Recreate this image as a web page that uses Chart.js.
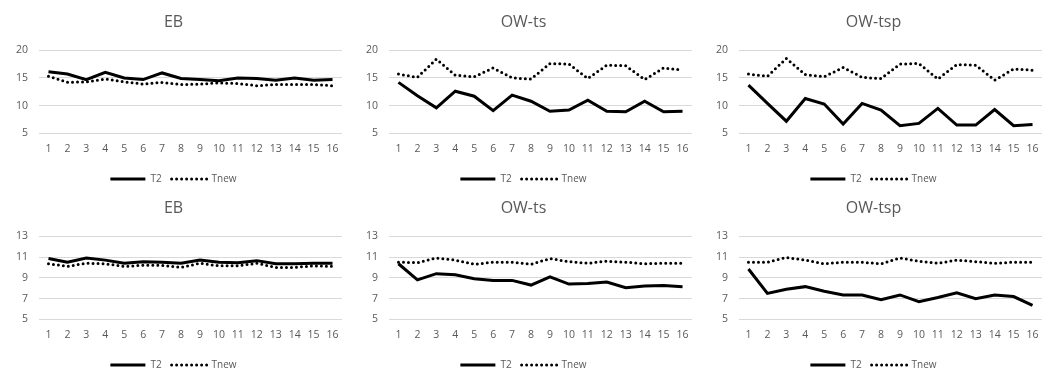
<!DOCTYPE html>
<html>
<head>
<meta charset="utf-8">
<script src="https://cdn.jsdelivr.net/npm/chart.js@4"></script>
<style>
  body { margin: 0; background: #fff; }
  .cell { position: absolute; width: 350px; height: 186px; }
</style>
</head>
<body>
<div class="cell" style="left:0;top:0"><canvas id="c1"></canvas></div>
<div class="cell" style="left:350px;top:0"><canvas id="c2"></canvas></div>
<div class="cell" style="left:700px;top:0"><canvas id="c3"></canvas></div>
<div class="cell" style="left:0;top:186px"><canvas id="c4"></canvas></div>
<div class="cell" style="left:350px;top:186px"><canvas id="c5"></canvas></div>
<div class="cell" style="left:700px;top:186px"><canvas id="c6"></canvas></div>
<script>
const labels = ["1","2","3","4","5","6","7","8","9","10","11","12","13","14","15","16"];

// top row
const ebTopT2 = [16.1, 15.7, 14.7, 16.0, 15.0, 14.7, 15.9, 14.9, 14.7, 14.5, 15.0, 14.9, 14.6, 15.0, 14.6, 14.7];
const ebTopTnew = [15.3, 14.2, 14.3, 14.8, 14.3, 13.9, 14.2, 13.8, 13.9, 14.1, 14.0, 13.6, 13.8, 13.8, 13.8, 13.6];
const tsTopT2 = [14.2, 11.8, 9.6, 12.6, 11.7, 9.1, 11.9, 10.8, 9.0, 9.2, 11.0, 9.0, 8.9, 10.8, 8.9, 9.0];
const tsTopTnew = [15.7, 15.1, 18.4, 15.5, 15.2, 16.8, 15.0, 14.8, 17.6, 17.5, 14.9, 17.3, 17.2, 14.7, 16.8, 16.4];
const tspTopT2 = [13.7, 10.4, 7.2, 11.3, 10.3, 6.7, 10.4, 9.2, 6.4, 6.8, 9.5, 6.5, 6.5, 9.3, 6.4, 6.6];
const tspTopTnew = [15.7, 15.3, 18.5, 15.6, 15.2, 16.9, 15.1, 14.9, 17.5, 17.6, 14.8, 17.4, 17.3, 14.6, 16.6, 16.4];

// bottom row
const ebBotT2 = [10.85, 10.5, 10.9, 10.7, 10.4, 10.55, 10.5, 10.4, 10.7, 10.5, 10.45, 10.65, 10.35, 10.35, 10.4, 10.4];
const ebBotTnew = [10.35, 10.1, 10.4, 10.35, 10.1, 10.2, 10.2, 10.0, 10.4, 10.15, 10.15, 10.4, 10.0, 10.0, 10.15, 10.1];
const tsBotT2 = [10.35, 8.8, 9.4, 9.3, 8.9, 8.75, 8.75, 8.3, 9.1, 8.4, 8.45, 8.6, 8.05, 8.2, 8.25, 8.15];
const tsBotTnew = [10.5, 10.45, 10.9, 10.7, 10.3, 10.5, 10.5, 10.3, 10.85, 10.55, 10.4, 10.6, 10.5, 10.35, 10.4, 10.4];
const tspBotT2 = [9.85, 7.5, 7.9, 8.15, 7.7, 7.35, 7.35, 6.9, 7.35, 6.7, 7.1, 7.55, 7.0, 7.35, 7.2, 6.35];
const tspBotTnew = [10.5, 10.5, 10.95, 10.7, 10.35, 10.5, 10.5, 10.35, 10.9, 10.6, 10.4, 10.7, 10.55, 10.4, 10.5, 10.5];

const fontFam = "'Open Sans', sans-serif";
const grey = "#595959";

function makeChart(id, title, t2, tnew, yMin, yMax, yStep) {
  new Chart(document.getElementById(id), {
    type: "line",
    data: {
      labels: labels,
      datasets: [
        {
          label: "T2",
          data: t2,
          borderColor: "#000",
          backgroundColor: "#000",
          borderWidth: 3,
          pointRadius: 0,
          tension: 0,
        },
        {
          label: "Tnew",
          data: tnew,
          borderColor: "#000",
          backgroundColor: "#000",
          borderWidth: 3,
          borderDash: [0, 5],
          borderCapStyle: "round",
          pointRadius: 0,
          tension: 0,
        },
      ],
    },
    options: {
      responsive: true,
      maintainAspectRatio: false,
      animation: false,
      layout: { padding: { left: 5, right: 8, top: 8, bottom: -8 } },
      plugins: {
        title: {
          display: true,
          text: title,
          color: grey,
          font: { family: fontFam, size: 16, weight: "normal" },
          padding: { top: 5, bottom: 18 },
        },
        legend: {
          position: "bottom",
          labels: {
            color: grey,
            font: { family: fontFam, size: 10 },
            boxWidth: 35,
            boxHeight: 0,
            padding: 10,
          },
        },
        tooltip: { enabled: false },
      },
      scales: {
        x: {
          offset: true,
          grid: { display: false, drawTicks: false },
          border: { display: false },
          ticks: { color: grey, font: { family: fontFam, size: 10.5 }, maxRotation: 0, autoSkip: false, padding: 9 },
        },
        y: {
          min: yMin,
          max: yMax,
          grid: { color: "#d9d9d9", lineWidth: 1, drawTicks: false },
          border: { display: false },
          ticks: { stepSize: yStep, color: grey, font: { family: fontFam, size: 10.5 }, padding: 11 },
        },
      },
    },
  });
}

makeChart("c1", "EB", ebTopT2, ebTopTnew, 5, 20, 5);
makeChart("c2", "OW-ts", tsTopT2, tsTopTnew, 5, 20, 5);
makeChart("c3", "OW-tsp", tspTopT2, tspTopTnew, 5, 20, 5);
makeChart("c4", "EB", ebBotT2, ebBotTnew, 5, 13, 2);
makeChart("c5", "OW-ts", tsBotT2, tsBotTnew, 5, 13, 2);
makeChart("c6", "OW-tsp", tspBotT2, tspBotTnew, 5, 13, 2);
</script>
</body>
</html>
